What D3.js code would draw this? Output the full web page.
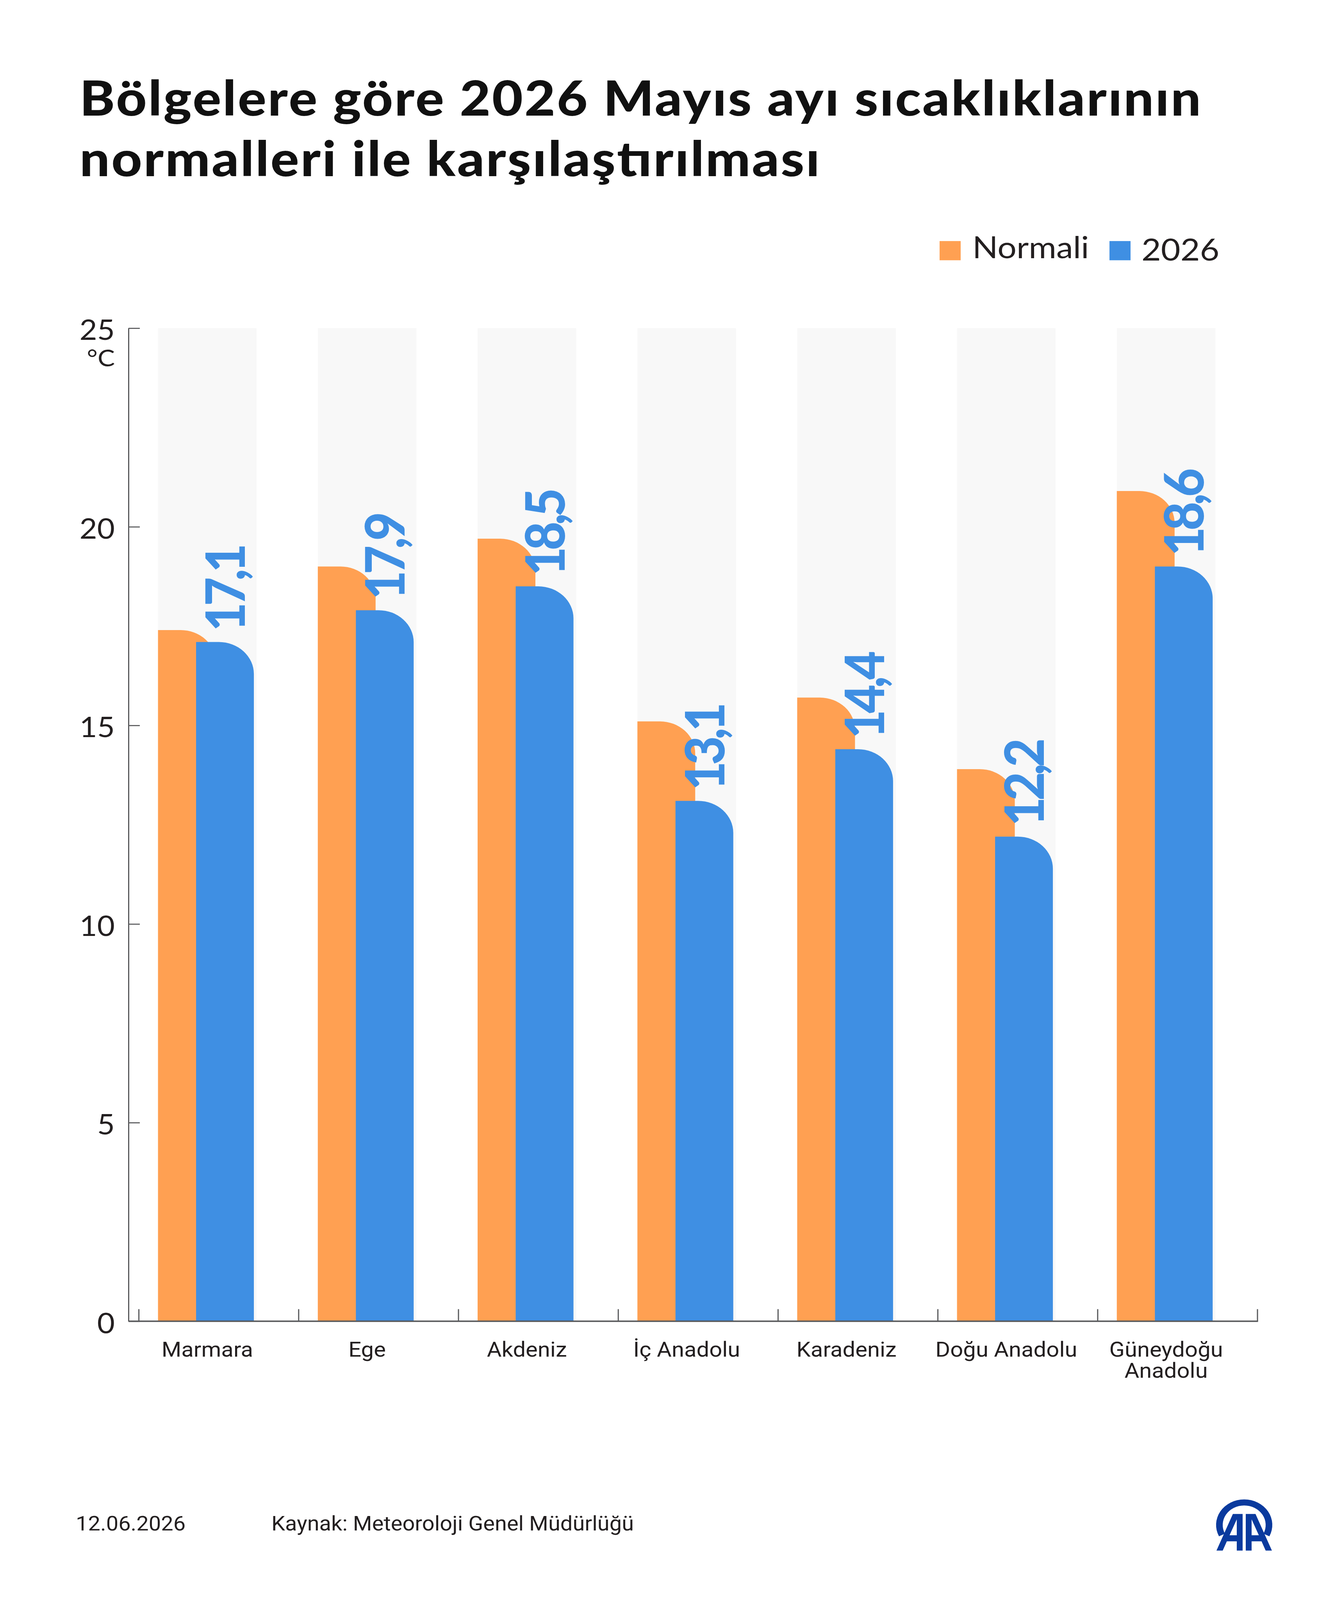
<!DOCTYPE html>
<html>
<head>
<meta charset="utf-8">
<script src="https://cdn.jsdelivr.net/npm/d3@7"></script>
<style>
  html, body { margin: 0; padding: 0; background: #ffffff; overflow: hidden; }
  svg { display: block; }
</style>
</head>
<body>
<div id="chart"></div>
<script>
// ---- data ----
const categories = ["Marmara", "Ege", "Akdeniz", "İç Anadolu", "Karadeniz", "Doğu Anadolu", "Güneydoğu Anadolu"];
const categoryLines = [["Marmara"], ["Ege"], ["Akdeniz"], ["İç Anadolu"], ["Karadeniz"], ["Doğu Anadolu"], ["Güneydoğu", "Anadolu"]];
const normalValues = [17.4, 19.0, 19.7, 15.1, 15.7, 13.9, 20.9];
const values2026 = [17.1, 17.9, 18.5, 13.1, 14.4, 12.2, 19.0];
const labels2026 = ["17,1", "17,9", "18,5", "13,1", "14,4", "12,2", "18,6"];
const yTicks = [0, 5, 10, 15, 20, 25];
const seriesNames = ["Normali", "2026"];
const titleLines = ["Bölgelere göre 2026 Mayıs ayı sıcaklıklarının", "normalleri ile karşılaştırılması"];
const unitLabel = "°C";
const dateText = "12.06.2026";
const sourceText = "Kaynak: Meteoroloji Genel Müdürlüğü";

// ---- style ----
const W = 3375, H = 4500;
const ORANGE = "#FFA052", BLUE = "#3F8FE3", BG = "#F8F8F8", AXIS = "#58595B", TEXT = "#231F20";
const HEAD = "Lato, 'Open Sans', sans-serif";
const BODY = "Roboto, 'Noto Sans', sans-serif";

// fit the whole 3375x4500 design into whatever viewport is actually shown
const vw = window.innerWidth || W, vh = window.innerHeight || H;
const svg = d3.select("#chart").append("svg")
  .attr("width", vw).attr("height", vh)
  .attr("viewBox", `0 0 ${W} ${H}`).attr("preserveAspectRatio", "none");
svg.append("rect").attr("width", W).attr("height", H).attr("fill", "#fff");

// scales
const y = d3.scaleLinear().domain([0, 25]).range([3716, 923]);
const x = d3.scaleBand().domain(categories).range([355.6, 3220]).paddingInner(0).paddingOuter(0);
const colOffset = 49, colWidth = 252.5, barWidth = 148, blueOffset = 97.5, R = 90;

// title
const titleWidths = [2871, 1895];
svg.append("g").selectAll("text").data(titleLines).join("text")
  .attr("x", 204).attr("y", (d, i) => 325 + i * 170)
  .attr("font-family", HEAD).attr("font-weight", 900).attr("font-size", 136)
  .attr("textLength", (d, i) => titleWidths[i]).attr("lengthAdjust", "spacing")
  .attr("fill", "#111").text(d => d);

// legend
const legend = svg.append("g");
const legendItems = [
  { name: seriesNames[0], color: ORANGE, rx: 2406, tx: 2490, ty: 726 },
  { name: seriesNames[1], color: BLUE, rx: 2841, tx: 2923, ty: 733 }
];
legend.selectAll("rect").data(legendItems).join("rect")
  .attr("x", d => d.rx).attr("y", 678).attr("width", 54).attr("height", 54).attr("fill", d => d.color);
legend.selectAll("text").data(legendItems).join("text")
  .attr("x", d => d.tx).attr("y", d => d.ty)
  .attr("font-family", HEAD).attr("font-size", 86).attr("fill", TEXT).text(d => d.name);

// background columns
const plot = svg.append("g");
plot.selectAll("rect.bgcol").data(categories).join("rect").attr("class", "bgcol")
  .attr("x", d => x(d) + colOffset).attr("y", y(25))
  .attr("width", colWidth).attr("height", y(0) - y(25)).attr("fill", BG);

function roundedTopRight(x0, yTop, w, yBase, r) {
  const p = d3.path();
  p.moveTo(x0, yBase);
  p.lineTo(x0, yTop);
  p.lineTo(x0 + w - r, yTop);
  p.arcTo(x0 + w, yTop, x0 + w, yTop + r, r);
  p.lineTo(x0 + w, yBase);
  p.closePath();
  return p.toString();
}

// normal bars
plot.selectAll("path.normal").data(categories).join("path").attr("class", "normal")
  .attr("d", (d, i) => roundedTopRight(x(d) + colOffset, y(normalValues[i]), barWidth, y(0), R))
  .attr("fill", ORANGE);

// 2026 bars
plot.selectAll("path.y2026").data(categories).join("path").attr("class", "y2026")
  .attr("d", (d, i) => roundedTopRight(x(d) + colOffset + blueOffset, y(values2026[i]), barWidth, y(0), R))
  .attr("fill", BLUE);

// value labels (rotated)
plot.selectAll("text.val").data(categories).join("text").attr("class", "val")
  .attr("transform", (d, i) => `translate(${x(d) + colOffset + blueOffset + 125},${y(values2026[i]) - 30}) rotate(-90)`)
  .attr("text-anchor", "start")
  .attr("font-family", HEAD).attr("font-weight", 900).attr("font-size", 140)
  .attr("letter-spacing", -10)
  .attr("fill", BLUE).text((d, i) => labels2026[i]);

// y axis
const yAxisG = svg.append("g").attr("transform", "translate(329,0)")
  .call(d3.axisLeft(y).tickValues(yTicks).tickSize(-29).tickSizeOuter(0).tickPadding(35).tickFormat(d3.format("d")));
yAxisG.select(".domain").attr("stroke", AXIS).attr("stroke-width", 3);
yAxisG.selectAll(".tick line").attr("stroke", AXIS).attr("stroke-width", 3);
yAxisG.selectAll(".tick text").attr("font-family", HEAD).attr("font-size", 78)
  .attr("fill", TEXT).attr("dy", "0.42em");
svg.append("text").attr("x", 294).attr("y", 1030).attr("text-anchor", "end")
  .attr("font-family", HEAD).attr("font-size", 66).attr("fill", TEXT).text(unitLabel);

// x axis
const xAxisG = svg.append("g");
const boundaries = categories.map(c => x(c)).concat([x.range()[1]]);
xAxisG.append("line").attr("x1", 329).attr("x2", x.range()[1] + 1.5)
  .attr("y1", y(0)).attr("y2", y(0)).attr("stroke", AXIS).attr("stroke-width", 4);
xAxisG.selectAll("line.xt").data(boundaries).join("line").attr("class", "xt")
  .attr("x1", d => d).attr("x2", d => d).attr("y1", y(0)).attr("y2", y(0) - 34)
  .attr("stroke", AXIS).attr("stroke-width", 3);
const xl = xAxisG.selectAll("text.xl").data(categories).join("text").attr("class", "xl")
  .attr("x", d => x(d) + colOffset + colWidth / 2).attr("y", 3816)
  .attr("text-anchor", "middle").attr("font-family", BODY).attr("font-size", 58).attr("fill", TEXT);
xl.each(function (d, i) {
  const t = d3.select(this);
  categoryLines[i].forEach((line, j) => {
    t.append("tspan").attr("x", x(d) + colOffset + colWidth / 2).attr("dy", j === 0 ? 0 : 59).text(line);
  });
});

// footer
svg.append("text").attr("x", 194).attr("y", 4305).attr("font-family", BODY).attr("font-size", 56)
  .attr("fill", TEXT).text(dateText);
svg.append("text").attr("x", 695).attr("y", 4305).attr("font-family", BODY).attr("font-size", 56)
  .attr("fill", TEXT).text(sourceText);

// AA logo
const LOGO = "#0A3A9E";
const logo = svg.append("g");
logo.append("path")
  .attr("transform", "translate(3186,4289)")
  .attr("d", d3.arc()({ innerRadius: 55, outerRadius: 72, startAngle: -2.03, endAngle: 2.03 }))
  .attr("fill", LOGO);
function aShape(s) {
  const cx = 3186;
  const X = v => cx + s * v;
  const outer = [[-29, 4258], [-4, 4258], [-4, 4361], [-19, 4361], [-19, 4335], [-44.4, 4335], [-55, 4361], [-71, 4361]];
  const inner = [[-19, 4273], [-19, 4318], [-37.5, 4318]];
  const poly = pts => "M" + pts.map(p => X(p[0]) + "," + p[1]).join("L") + "Z";
  return poly(outer) + poly(inner);
}
logo.append("path").attr("d", aShape(1)).attr("fill", LOGO).attr("fill-rule", "evenodd");
logo.append("path").attr("d", aShape(-1)).attr("fill", LOGO).attr("fill-rule", "evenodd");
</script>
</body>
</html>
